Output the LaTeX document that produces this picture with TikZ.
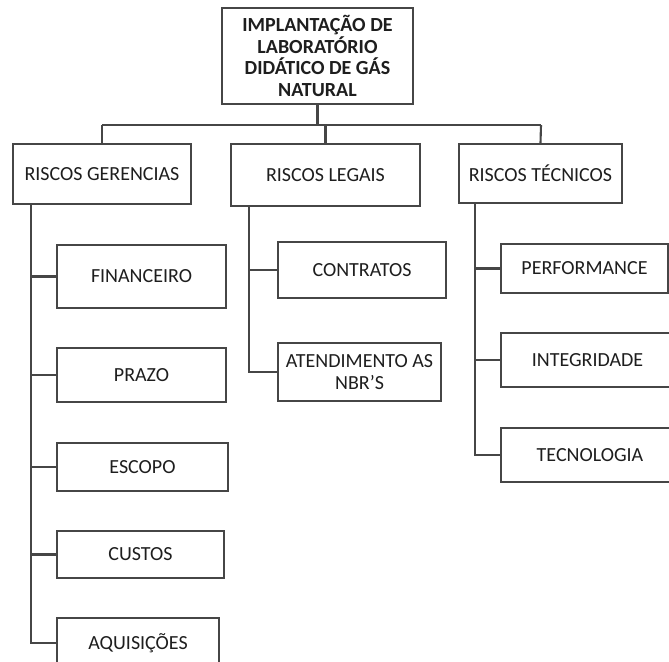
\documentclass[tikz,border=0pt]{standalone}
\usepackage{fontspec}
\setmainfont{Carlito}
\definecolor{linegray}{HTML}{464646}
\definecolor{textgray}{HTML}{1E1E1E}
\begin{document}
\begin{tikzpicture}[x=1pt,y=-1pt,
  box/.style={draw=linegray, line width=2.1pt, fill=white, rectangle,
    inner sep=0pt, align=center, text=textgray,
    font=\fontsize{20}{21.7}\selectfont},
  link/.style={draw=linegray, line width=2.1pt}]
\clip (0,0) rectangle (669,661);
\fill[white] (0,0) rectangle (669,661);

% root
\node[box, minimum width=191, minimum height=96, font=\fontsize{20}{21.7}\selectfont\bfseries]
  (root) at (317.5,56) {IMPLANTAÇÃO DE\\LABORATÓRIO\\DIDÁTICO DE GÁS\\NATURAL};

% second level
\node[box, minimum width=178, minimum height=60] (ger) at (102,174) {RISCOS GERENCIAS};
\node[box, minimum width=189, minimum height=62] (leg) at (325.5,175) {RISCOS LEGAIS};
\node[box, minimum width=163, minimum height=59] (tec) at (540.5,173.5) {RISCOS TÉCNICOS};

% bus
\coordinate (busL) at (102,125);
\coordinate (busR) at (541,125);
\draw[link] (root.south) -- (root.south |- busL);
\draw[link] (busL) -- (busR);
\draw[link] (busL) -- (ger.north);
\draw[link] (leg.north |- busL) -- (leg.north);
\draw[link] (busR) -- (tec.north);

% managerial risks
\node[box, minimum width=169, minimum height=63] (fin) at (141.5,276.5) {FINANCEIRO};
\node[box, minimum width=169, minimum height=54] (prazo) at (141.5,375) {PRAZO};
\node[box, minimum width=171, minimum height=48] (escopo) at (142.5,467) {ESCOPO};
\node[box, minimum width=167, minimum height=47] (custos) at (140.5,554.5) {CUSTOS};
\node[box, minimum width=162, minimum height=50] (aquis) at (138,643) {AQUISIÇÕES};
\foreach \c in {fin,prazo,escopo,custos,aquis}
  \draw[link] ([xshift=19]ger.south west) |- (\c.west);

% legal risks
\node[box, minimum width=168, minimum height=56] (contr) at (362,270) {CONTRATOS};
\node[box, minimum width=163, minimum height=58] (atend) at (359.5,372) {ATENDIMENTO AS\\NBR’S};
\foreach \c in {contr,atend}
  \draw[link] ([xshift=19]leg.south west) |- (\c.west);

% technical risks
\node[box, minimum width=167, minimum height=49] (perf) at (584.5,268.5) {PERFORMANCE};
\node[box, minimum width=173, minimum height=54] (integ) at (587.5,360) {INTEGRIDADE};
\node[box, minimum width=178, minimum height=54] (tecno) at (590,455) {TECNOLOGIA};
\foreach \c in {perf,integ,tecno}
  \draw[link] ([xshift=17]tec.south west) |- (\c.west);
\end{tikzpicture}
\end{document}
